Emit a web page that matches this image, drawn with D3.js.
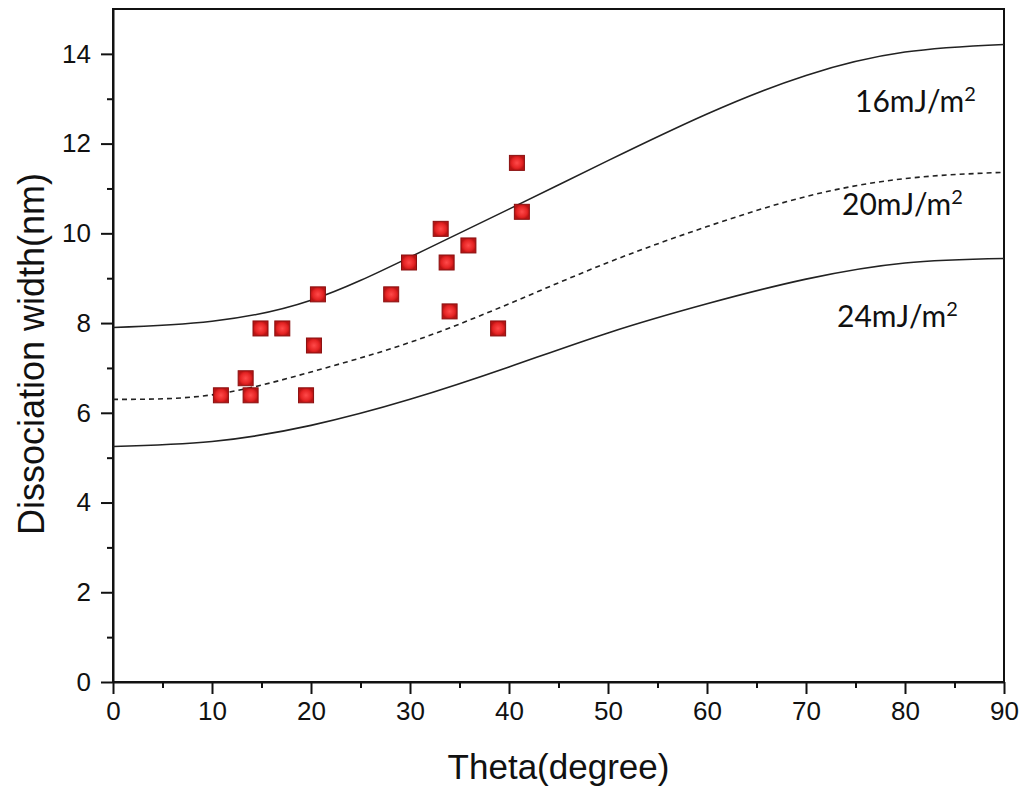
<!DOCTYPE html>
<html>
<head>
<meta charset="utf-8">
<script src="https://cdnjs.cloudflare.com/ajax/libs/d3/7.8.5/d3.min.js"></script>
<style>
body { margin: 0; background: #fff; }
.axis text { font-family: "Liberation Sans", Arial, sans-serif; font-size: 26px; fill: #111; }
.axis path, .axis line { stroke: #111; stroke-width: 2; }
.lbl { font-family: Lato, "Open Sans", sans-serif; font-size: 30px; fill: #111; }
</style>
</head>
<body>
<svg width="1024" height="791"></svg>
<script>
// theta values for the fitted curves
var theta = [0, 10, 20, 30, 40, 50, 60, 70, 80, 90];
var curve16 = [7.90, 8.04, 8.51, 9.47, 10.54, 11.62, 12.66, 13.52, 14.04, 14.21];
var curve20 = [6.30, 6.40, 6.91, 7.57, 8.43, 9.35, 10.15, 10.82, 11.22, 11.36];
var curve24 = [5.25, 5.36, 5.72, 6.30, 7.02, 7.78, 8.43, 8.98, 9.34, 9.44];

// measured points
var ptTheta = [10.9, 13.4, 13.9, 14.9, 17.1, 19.5, 20.3, 20.7, 28.1, 29.9, 33.1, 33.7, 34.0, 35.9, 38.9, 40.8, 41.3];
var ptWidth = [6.39, 6.77, 6.39, 7.88, 7.88, 6.39, 7.50, 8.64, 8.64, 9.35, 10.10, 9.35, 8.26, 9.73, 7.88, 11.57, 10.48];

var xTicks = [0, 10, 20, 30, 40, 50, 60, 70, 80, 90];
var yTicks = [0, 2, 4, 6, 8, 10, 12, 14];
var curveLabels = ["16", "20", "24"];

var svg = d3.select("svg");
var mLeft = 113, mRight = 1004, mTop = 9, mBottom = 682;

var x = d3.scaleLinear().domain([0, 90]).range([mLeft, mRight]);
var y = d3.scaleLinear().domain([0, 15]).range([mBottom, mTop]);

var defs = svg.append("defs");
var grad = defs.append("radialGradient").attr("id", "sq");
grad.append("stop").attr("offset", "0%").attr("stop-color", "#ff4a4a");
grad.append("stop").attr("offset", "70%").attr("stop-color", "#e52424");
grad.append("stop").attr("offset", "100%").attr("stop-color", "#b81414");

// minor ticks
svg.append("g").attr("class", "axis")
  .attr("transform", "translate(0," + mBottom + ")")
  .call(d3.axisBottom(x).tickValues(d3.range(5, 90, 10)).tickSize(6).tickFormat(""))
  .select(".domain").remove();
svg.append("g").attr("class", "axis")
  .attr("transform", "translate(" + mLeft + ",0)")
  .call(d3.axisLeft(y).tickValues(d3.range(1, 15, 2)).tickSize(6).tickFormat(""))
  .select(".domain").remove();

// major ticks
svg.append("g").attr("class", "axis")
  .attr("transform", "translate(0," + mBottom + ")")
  .call(d3.axisBottom(x).tickValues(xTicks).tickSize(12).tickSizeOuter(0).tickPadding(8));
svg.append("g").attr("class", "axis")
  .attr("transform", "translate(" + mLeft + ",0)")
  .call(d3.axisLeft(y).tickValues(yTicks).tickSize(12).tickSizeOuter(0).tickPadding(10));

// frame
svg.append("rect")
  .attr("x", mLeft).attr("y", mTop)
  .attr("width", mRight - mLeft).attr("height", mBottom - mTop)
  .attr("fill", "none").attr("stroke", "#111").attr("stroke-width", 2);

var line = d3.line()
  .x(function(d) { return x(d[0]); })
  .y(function(d) { return y(d[1]); })
  .curve(d3.curveNatural);

function pairs(vals) { return theta.map(function(t, i) { return [t, vals[i]]; }); }

svg.append("path").datum(pairs(curve16)).attr("d", line)
  .attr("fill", "none").attr("stroke", "#222").attr("stroke-width", 1.6);
svg.append("path").datum(pairs(curve20)).attr("d", line)
  .attr("fill", "none").attr("stroke", "#222").attr("stroke-width", 1.6)
  .attr("stroke-dasharray", "5,4");
svg.append("path").datum(pairs(curve24)).attr("d", line)
  .attr("fill", "none").attr("stroke", "#222").attr("stroke-width", 1.6);

// points
var s = 15;
svg.selectAll("rect.pt")
  .data(ptTheta.map(function(t, i) { return [t, ptWidth[i]]; }))
  .enter().append("rect")
  .attr("class", "pt")
  .attr("x", function(d) { return x(d[0]) - s / 2; })
  .attr("y", function(d) { return y(d[1]) - s / 2; })
  .attr("width", s).attr("height", s)
  .attr("fill", "url(#sq)")
  .attr("stroke", "#8a1010").attr("stroke-width", 1);

// curve labels
var lblPos = [[855, 112], [842, 215], [837, 327]];
curveLabels.forEach(function(c, i) {
  var t = svg.append("text").attr("class", "lbl")
    .attr("x", lblPos[i][0]).attr("y", lblPos[i][1]);
  t.append("tspan").text(c + "mJ/m");
  t.append("tspan").attr("dy", -11).attr("font-size", "20px").text("2");
});

// axis titles
svg.append("text")
  .attr("x", (mLeft + mRight) / 2).attr("y", 779)
  .attr("text-anchor", "middle")
  .style("font-family", "Liberation Sans, Arial, sans-serif")
  .style("font-size", "35px").attr("fill", "#111")
  .text("Theta(degree)");

svg.append("text")
  .attr("transform", "translate(44,354) rotate(-90)")
  .attr("text-anchor", "middle")
  .style("font-family", "Liberation Sans, Arial, sans-serif")
  .style("font-size", "36px").attr("fill", "#111")
  .text("Dissociation width(nm)");
</script>
</body>
</html>
